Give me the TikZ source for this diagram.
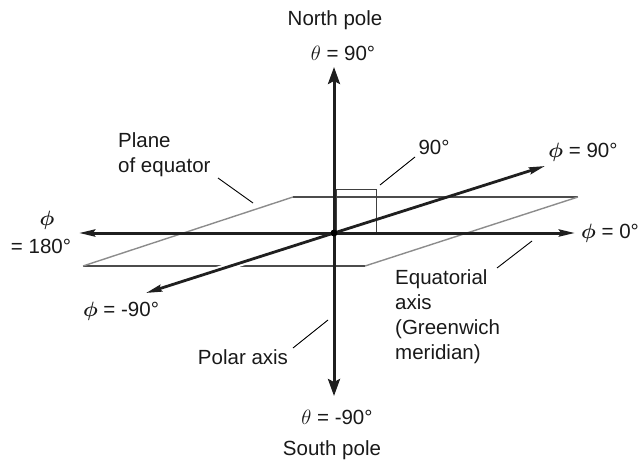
\documentclass[tikz,border=0pt]{standalone}
\usepackage{fontspec}
\usepackage{bm}
\setmainfont{Liberation Sans}
\usetikzlibrary{arrows.meta}
\tikzset{
  axisline/.style={line width=3pt, draw=black!88},
  vtip/.style={-{Stealth[length=17pt,width=12pt,inset=3pt]}},
  htip/.style={-{Stealth[length=16pt,width=7pt,inset=2pt]}},
  planeedge/.style={line width=1.1pt, draw=black!70},
  planeslant/.style={line width=1.4pt, draw=black!45},
  leader/.style={line width=0.9pt, draw=black},
  lbl/.style={inner sep=0pt, text=black!90, font=\fontsize{20.5}{25}\selectfont},
}
\begin{document}
\begin{tikzpicture}[x=1pt,y=-1pt]
\useasboundingbox (0,0) rectangle (640,466);
% coordinates
\coordinate (O) at (334,233);
\coordinate (N) at (334,67);
\coordinate (S) at (334,396);
\coordinate (E) at (575,233);
\coordinate (W) at (79,233);
\coordinate (P90) at (545,166);
\coordinate (M90) at (146,293);
\coordinate (A) at (83,266);
\coordinate (B) at (365,266);
\coordinate (C) at (578,197);
\coordinate (D) at (293,197);
% plane of equator
\draw[planeedge] (A) -- (B);
\draw[planeedge] (D) -- (C);
\draw[planeslant] (A) -- (D);
\draw[planeslant] (B) -- (C);
% right angle box
\coordinate (R1) at (336,189);
\coordinate (R2) at (376,233);
\draw[line width=1pt, draw=black!75] (336,233) |- (R1) -| (R2);
% phi axis
\draw[axisline, htip, line width=2.8pt, preaction={draw=white,line width=7pt,shorten >=20pt}] (O) -- (M90);
\draw[axisline, htip, line width=2.8pt] (O) -- (P90);
% equatorial axis
\draw[axisline, htip] (O) -- (E);
\draw[axisline, htip] (O) -- (W);
% polar axis
\draw[axisline, vtip] (O) -- (N);
\draw[axisline, vtip] (O) -- (S);
\fill[black] (O) circle (3.5pt);
% labels
\node[lbl] (np) at (335,20) {North pole};
\node[lbl] (t90) at (343,53) {$\theta$ = 90°};
\node[lbl] (tm90) at (337,417) {$\theta$ = -90°};
\node[lbl] (sp) at (332,450) {South pole};
\node[lbl, align=left, anchor=west] (plane) at (118,155) {Plane\\of equator};
\node[lbl] (n90) at (434,147) {90°};
\node[lbl] (p90) at (583,152) {$\bm{\phi}$ = 90°};
\node[lbl] (p0) at (610,233) {$\bm{\phi}$ = 0°};
\node[lbl] (p180a) at (47,220) {$\bm{\phi}$};
\node[lbl] (p180b) at (41,246) {= 180°};
\node[lbl] (pm90) at (121,311) {$\bm{\phi}$ = -90°};
\node[lbl] (polar) at (243,357) {Polar axis};
\node[lbl, align=left, anchor=west] (eq) at (395,317) {Equatorial\\axis\\(Greenwich\\meridian)};
% leaders
\coordinate (l1a) at (218,178); \coordinate (l1b) at (253,203);
\draw[leader] (l1a) -- (l1b);
\coordinate (l2a) at (415,157); \coordinate (l2b) at (380,185);
\draw[leader] (l2a) -- (l2b);
\coordinate (l3a) at (532,241); \coordinate (l3b) at (497,268);
\draw[leader] (l3a) -- (l3b);
\coordinate (l4a) at (293,348); \coordinate (l4b) at (328,320);
\draw[leader] (l4a) -- (l4b);
\end{tikzpicture}
\end{document}
